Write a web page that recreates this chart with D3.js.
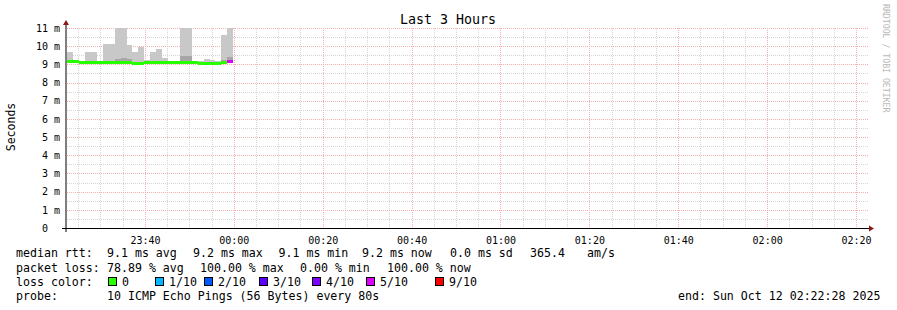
<!DOCTYPE html>
<html>
<head>
<meta charset="utf-8">
<script src="https://cdn.jsdelivr.net/npm/d3@7/dist/d3.min.js"></script>
<style>
body { margin: 0; background: #fff; }
text { font-family: "DejaVu Sans Mono", monospace; fill: #000; }
</style>
</head>
<body>
<div id="chart"></div>
<script>
// smokeping samples, one every 80 s, values in ms
const stepStart = "2025-10-11 23:22:32";
const stepSeconds = 80;
const medianMs  = [9.14, 9.15, 9.11, 9.11, 9.11, 9.11, 9.12, 9.12, 9.12, 9.13, 9.11, 9.05, 9.07, 9.10,
                   9.13, 9.13, 9.12, 9.13, 9.13, 9.13, 9.13, 9.12, 9.07, 9.05, 9.03, 9.07, 9.10, 9.14];
const maxMs     = [9.68, 9.20, 9.17, 9.68, 9.68, 9.20, 10.12, 10.12, 11.9, 11.9, 10.07, 9.68, 9.96, 9.26,
                   9.68, 9.85, 9.35, 9.19, 9.19, 12.4, 12.4, 9.18, 9.16, 9.27, 9.25, 9.20, 10.60, 11.8];
const innerHiMs = [9.26, 9.18, 9.15, 9.16, 9.16, 9.15, 9.18, 9.18, 9.30, 9.35, 9.28, 9.12, 9.14, 9.15,
                   9.17, 9.17, 9.16, 9.16, 9.16, 9.48, 9.48, 9.15, 9.12, 9.10, 9.08, 9.12, 9.24, 9.42];
const minMs     = [9.09, 9.11, 9.07, 9.07, 9.07, 9.07, 9.08, 9.05, 9.07, 9.08, 9.06, 9.00, 9.02, 9.04,
                   9.09, 9.09, 9.06, 9.09, 9.09, 9.08, 9.08, 9.07, 9.02, 8.98, 8.97, 8.99, 9.05, 9.09];
const lossCount = [0, 0, 0, 0, 0, 0, 0, 0, 0, 0, 0, 0, 0, 0,
                   0, 0, 0, 0, 0, 0, 0, 0, 0, 0, 0, 0, 0, 5];

const graphStart = "2025-10-11 23:22:28";
const graphEnd = "2025-10-12 02:22:28";
const yTicks = [0, 1, 2, 3, 4, 5, 6, 7, 8, 9, 10, 11];
const xTicks = ["2025-10-11 23:40", "2025-10-12 00:00", "2025-10-12 00:20", "2025-10-12 00:40",
                "2025-10-12 01:00", "2025-10-12 01:20", "2025-10-12 01:40", "2025-10-12 02:00",
                "2025-10-12 02:20"];

const lossLabels = ["0", "1/10", "2/10", "3/10", "4/10", "5/10", "9/10"];
const lossLevels = [0, 1, 2, 3, 4, 5, 9];
const lossColors = ["#26ff00", "#00b8ff", "#0059ff", "#5e00ff", "#7e00ff", "#dd00ff", "#ff0000"];

const rttLegend = [["median rtt:", 16], ["9.1 ms avg", 107], ["9.2 ms max", 193], ["9.1 ms min", 278.5],
                   ["9.2 ms now", 362], ["0.0 ms sd", 450], ["365.4", 530], ["am/s", 587]];
const lossLegend = [["packet loss:", 16], ["78.89 % avg", 107], ["100.00 % max", 200],
                    ["0.00 % min", 300], ["100.00 % now", 387]];

const width = 897, height = 310;
const plotLeft = 67, plotRight = 867, plotTop = 28, plotBottom = 228;

const parseMin = d3.timeParse("%Y-%m-%d %H:%M");
const parseSec = d3.timeParse("%Y-%m-%d %H:%M:%S");
const fmt = d3.timeFormat("%H:%M");

const x = d3.scaleTime()
    .domain([parseSec(graphStart), parseSec(graphEnd)])
    .range([plotLeft, plotRight]);
const y = d3.scaleLinear()
    .domain([0, 11])
    .range([plotBottom, plotTop]);

const t0 = parseSec(stepStart);
const samples = medianMs.map((m, i) => ({
    t: new Date(t0.getTime() + i * stepSeconds * 1000),
    t1: new Date(t0.getTime() + (i + 1) * stepSeconds * 1000),
    median: m, max: maxMs[i], hi: innerHiMs[i], min: minMs[i], loss: lossCount[i]
}));

const lossColor = d3.scaleThreshold()
    .domain([1, 2, 3, 4, 5, 6])
    .range(lossColors);

const svg = d3.select('#chart').append('svg')
    .attr('width', width)
    .attr('height', height);

svg.append('rect').attr('width', width).attr('height', height).attr('fill', '#fff');

// grid
const minorColor = '#d6d6d6', majorColor = '#f4b0b0';
let grid = svg.append('g').attr('shape-rendering', 'crispEdges');
const minorT = d3.timeMinute.every(5).range(x.domain()[0], x.domain()[1]);
grid.selectAll('.vminor').data(minorT.filter(d => d.getMinutes() % 20 !== 0)).enter().append('line')
    .attr('x1', d => Math.round(x(d)) + 0.5).attr('x2', d => Math.round(x(d)) + 0.5)
    .attr('y1', plotTop).attr('y2', plotBottom)
    .attr('stroke', minorColor).attr('stroke-dasharray', '1,1');
grid.selectAll('.hminor').data(d3.range(0.5, 11, 1)).enter().append('line')
    .attr('x1', plotLeft).attr('x2', plotRight + 1)
    .attr('y1', d => Math.round(y(d)) + 0.5).attr('y2', d => Math.round(y(d)) + 0.5)
    .attr('stroke', minorColor).attr('stroke-dasharray', '1,1');
grid.selectAll('.vmajor').data(xTicks.map(parseMin)).enter().append('line')
    .attr('x1', d => Math.round(x(d)) + 0.5).attr('x2', d => Math.round(x(d)) + 0.5)
    .attr('y1', plotTop).attr('y2', plotBottom)
    .attr('stroke', majorColor).attr('stroke-dasharray', '1,1');
grid.selectAll('.hmajor').data(yTicks.slice(1)).enter().append('line')
    .attr('x1', plotLeft).attr('x2', plotRight + 1)
    .attr('y1', d => Math.round(y(d)) + 0.5).attr('y2', d => Math.round(y(d)) + 0.5)
    .attr('stroke', majorColor).attr('stroke-dasharray', '1,1');

// smoke + median
svg.append('clipPath').attr('id', 'clip').append('rect')
    .attr('x', plotLeft).attr('y', plotTop).attr('width', plotRight - plotLeft).attr('height', plotBottom - plotTop);
let plot = svg.append('g').attr('shape-rendering', 'crispEdges').attr('clip-path', 'url(#clip)');

plot.selectAll('.smoke').data(samples).enter().append('rect')
    .attr('x', d => x(d.t)).attr('width', d => x(d.t1) - x(d.t))
    .attr('y', d => y(d.max)).attr('height', d => y(d.min) - y(d.max))
    .attr('fill', '#c8c8c8');
plot.selectAll('.core').data(samples).enter().append('rect')
    .attr('x', d => x(d.t)).attr('width', d => x(d.t1) - x(d.t))
    .attr('y', d => y(d.hi)).attr('height', d => Math.max(0, y(d.median) - y(d.hi)))
    .attr('fill', '#a6a6a6');
plot.selectAll('.median').data(samples).enter().append('rect')
    .attr('x', d => x(d.t)).attr('width', d => x(d.t1) - x(d.t))
    .attr('y', d => y(d.median) - 1.5).attr('height', 3)
    .attr('fill', d => lossColor(d.loss));

// axes
svg.append('g')
    .attr('transform', `translate(0,${plotBottom})`)
    .call(d3.axisBottom(x).tickValues(xTicks.map(parseMin)).tickFormat(fmt).tickSize(0).tickPadding(9))
    .call(g => g.select('.domain').remove())
    .call(g => g.selectAll('text').attr('font-size', '10px').attr('font-family', '"DejaVu Sans Mono", monospace'));

svg.append('g')
    .attr('transform', `translate(60,0)`)
    .call(d3.axisLeft(y).tickValues(yTicks).tickFormat(d => d === 0 ? '0' : d + ' m').tickSize(0).tickPadding(0))
    .call(g => g.select('.domain').remove())
    .call(g => g.selectAll('text').attr('font-size', '10px').attr('font-family', '"DejaVu Sans Mono", monospace')
        .attr('dx', d => d === 0 ? -12 : 0));

svg.append('line').attr('x1', 62).attr('x2', 870).attr('y1', plotBottom + 0.5).attr('y2', plotBottom + 0.5)
    .attr('stroke', '#000');
svg.append('line').attr('x1', 66).attr('x2', 66).attr('y1', plotBottom + 4).attr('y2', 24)
    .attr('stroke', '#000');
svg.append('path').attr('d', 'M869,225.5L874,228.5L869,231.5Z').attr('fill', '#8b1a1a');
svg.append('path').attr('d', 'M63,25L66,20L69,25Z').attr('fill', '#8b1a1a');

// titles
svg.append('text').attr('x', 448).attr('y', 24).attr('text-anchor', 'middle')
    .attr('font-size', '13.3px').text('Last 3 Hours');
svg.append('text').attr('transform', 'translate(15,127) rotate(-90)').attr('text-anchor', 'middle')
    .attr('font-size', '11.5px').text('Seconds');
svg.append('text').attr('transform', 'translate(883,4) rotate(90)')
    .attr('font-size', '8.2px').style('fill', '#b8b8b8').text('RRDTOOL / TOBI OETIKER');

// legend
const fs = '11.6px';
let legend = svg.append('g').attr('font-size', fs);
legend.selectAll('.rtt').data(rttLegend).enter().append('text')
    .attr('x', d => d[1]).attr('y', 256.8).text(d => d[0]);
legend.selectAll('.loss').data(lossLegend).enter().append('text')
    .attr('x', d => d[1]).attr('y', 271.5).text(d => d[0]);
legend.append('text').attr('x', 16).attr('y', 285.8).text('loss color:');
const boxX = [108, 155, 204, 259, 312, 366, 435];
lossLabels.forEach((lab, i) => {
    legend.append('rect').attr('x', boxX[i] + 0.5).attr('y', 277.5).attr('width', 8).attr('height', 8)
        .attr('fill', lossColor(lossLevels[i])).attr('stroke', '#000').attr('shape-rendering', 'crispEdges');
    legend.append('text').attr('x', boxX[i] + 14).attr('y', 285.8).text(lab);
});
legend.append('text').attr('x', 16).attr('y', 300).text('probe:');
legend.append('text').attr('x', 107).attr('y', 300).text('10 ICMP Echo Pings (56 Bytes) every 80s');
legend.append('text').attr('x', 678).attr('y', 300).text('end: Sun Oct 12 02:22:28 2025');
</script>
</body>
</html>
